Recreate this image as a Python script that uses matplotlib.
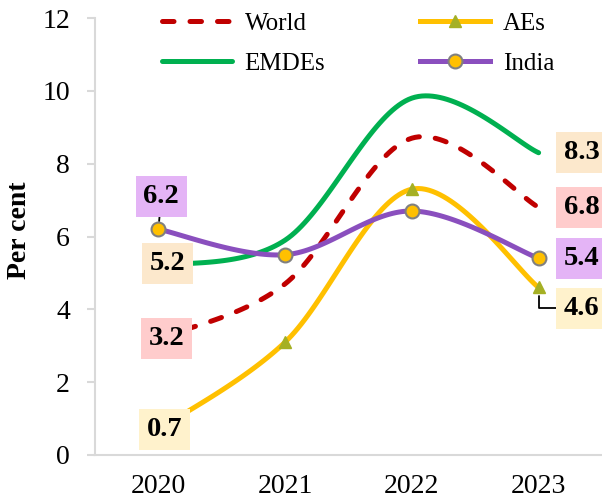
import numpy as np
import matplotlib
matplotlib.use("Agg")
import matplotlib.pyplot as plt
from matplotlib.lines import Line2D

years = ["2020", "2021", "2022", "2023"]
world = [3.2, 4.7, 8.7, 6.8]
emdes = [5.2, 5.9, 9.8, 8.3]
aes = [0.7, 3.1, 7.3, 4.6]
india = [6.2, 5.5, 6.7, 5.4]

plt.rcParams['font.family'] = ['Liberation Serif', 'DejaVu Serif']

def smooth(xs, ys, n=40):
    xs = np.asarray(xs, float); ys = np.asarray(ys, float)
    P = np.column_stack([xs, ys])
    out = []
    for i in range(len(P) - 1):
        p0 = P[i - 1] if i > 0 else P[i]
        p1 = P[i]; p2 = P[i + 1]
        p3 = P[i + 2] if i + 2 < len(P) else P[i + 1]
        c1 = p1 + (p2 - p0) / 6.0
        c2 = p2 - (p3 - p1) / 6.0
        t = np.linspace(0, 1, n)[:, None]
        seg = (1 - t) ** 3 * p1 + 3 * (1 - t) ** 2 * t * c1 + 3 * (1 - t) * t ** 2 * c2 + t ** 3 * p2
        out.append(seg if i == 0 else seg[1:])
    s = np.vstack(out)
    return s[:, 0], s[:, 1]

fig = plt.figure(figsize=(6.02, 5.01), dpi=100)
ax = fig.add_axes([95 / 602, 1 - 455 / 501, 1 - 95 / 602, (455 - 18) / 501])

x = np.arange(len(years))
c_world = '#C00000'
c_emdes = '#00B050'
c_aes = '#FFC000'
c_india = '#8A4FBE'
c_tri = '#A5B024'
lw = 3.6

sx, sy = smooth(x, world)
ax.plot(sx, sy, color=c_world, lw=lw, dashes=(2.3, 3.2), dash_capstyle='round', zorder=2)
sx, sy = smooth(x, emdes)
ax.plot(sx, sy, color=c_emdes, lw=lw, solid_capstyle='round', zorder=2)
sx, sy = smooth(x, aes)
ax.plot(sx, sy, color=c_aes, lw=lw, solid_capstyle='round', zorder=2)
ax.plot(x, aes, ls='none', marker='^', ms=9, color=c_tri, zorder=2.5)
sx, sy = smooth(x, india)
ax.plot(sx, sy, color=c_india, lw=lw, solid_capstyle='round', zorder=2.6)
ax.plot(x, india, ls='none', marker='o', ms=10, mfc=c_aes, mec='#808080', mew=1.5, zorder=2.7)

ax.set_xlim(-0.5, 3.5)
ax.set_ylim(0, 12)
ax.set_yticks(range(0, 13, 2))
ax.set_xticks(x)
ax.set_xticklabels(years)
for s in ['top', 'right']:
    ax.spines[s].set_visible(False)
for s in ['left', 'bottom']:
    ax.spines[s].set_color('#D9D9D9')
    ax.spines[s].set_linewidth(1.5)
ax.tick_params(axis='y', length=6, width=1.5, color='#D9D9D9', labelsize=20, pad=12)
ax.tick_params(axis='x', length=0, labelsize=20, pad=14)

fig.text(20 / 602, 1 - 230 / 501, 'Per cent', rotation=90, fontsize=20,
         fontweight='bold', ha='center', va='center')

col_pink = '#FFCCCC'
col_peach = '#FCE8CC'
col_yel = '#FFF2CC'
col_purp = '#E4B4F6'

def lab(xi, yi, txt, dx, dy, fc, leader=None):
    kw = {}
    if leader is not None:
        kw['arrowprops'] = dict(arrowstyle='-', color='black', lw=1.3,
                                connectionstyle=leader, shrinkA=0, shrinkB=6)
    ax.annotate(txt, xy=(xi, yi), xytext=(dx, dy), textcoords='offset pixels',
                ha='center', va='center', fontsize=20.5, fontweight='bold',
                bbox=dict(boxstyle='square,pad=0.28', fc=fc, ec='none'),
                annotation_clip=False, zorder=4, **kw)

lab(0, world[0], f'{world[0]}', 8, 0, col_pink)
lab(0, emdes[0], f'{emdes[0]}', 9, 2, col_peach)
lab(0, aes[0], f'{aes[0]}', 6, 0, col_yel)
lab(0, india[0], f'{india[0]}', 3, 33, col_purp, leader='arc3')
lab(3, emdes[3], f'{emdes[3]}', 43, 0, col_peach)
lab(3, world[3], f'{world[3]}', 43, 0, col_pink)
lab(3, india[3], f'{india[3]}', 43, 0, col_purp)
lab(3, aes[3], f'{aes[3]}', 43, -21, col_yel, leader='angle,angleA=0,angleB=90,rad=0')

handles = [
    Line2D([], [], color=c_world, lw=lw, dashes=(2.3, 3.2), dash_capstyle='round'),
    Line2D([], [], color=c_emdes, lw=lw, solid_capstyle='round'),
    Line2D([], [], color=c_aes, lw=lw, marker='^', ms=9, mfc=c_tri, mec=c_tri),
    Line2D([], [], color=c_india, lw=lw, marker='o', ms=10, mfc=c_aes, mec='#808080', mew=1.5),
]
labels = ['World', 'EMDEs', 'AEs', 'India']
fig.legend(handles, labels, ncol=2, loc='upper left', frameon=False,
           bbox_to_anchor=(162 / 602, 1 - 12 / 501), bbox_transform=fig.transFigure,
           fontsize=18, handlelength=2.8, handletextpad=0.5, columnspacing=3.8,
           labelspacing=0.72, borderpad=0, borderaxespad=0)

fig.savefig('out.png', dpi=100)
